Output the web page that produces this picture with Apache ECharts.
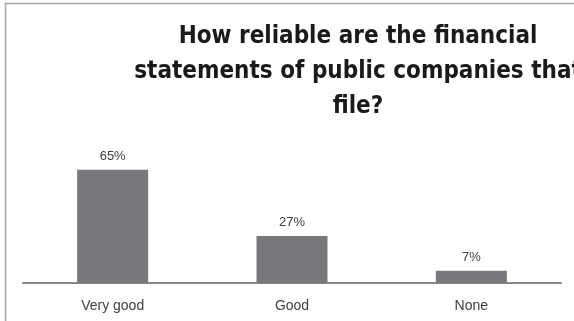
<!DOCTYPE html>
<html>
<head>
<meta charset="utf-8">
<script src="https://cdn.jsdelivr.net/npm/echarts@6/dist/echarts.min.js"></script>
<style>
  html, body { margin: 0; padding: 0; background: #fff; }
  #chart { width: 574px; height: 321px; }
</style>
</head>
<body>
<div id="chart"></div>
<script>
// 数据
const categories = ["Very good", "Good", "None"];
const values = [65, 27, 7];
const titleText = "How reliable are the financial\nstatements of public companies that\nfile?";

const mycharts = echarts.init(document.getElementById("chart"));
const options = {
  backgroundColor: "#fff",
  animation: false,
  title: {
    text: titleText,
    left: 353,
    top: 14,
    textAlign: "center",
    textStyle: {
      fontFamily: "Liberation Sans Narrow, DejaVu Sans Condensed, Liberation Sans, sans-serif",
      fontWeight: "bold",
      fontSize: 24,
      lineHeight: 35,
      color: "#1a1a1a",
    },
  },
  graphic: [
    {
      type: "polyline",
      silent: true,
      shape: { points: [[5.5, 330], [5.5, 3.5], [580, 3.5]] },
      style: { stroke: "#a6a6a6", lineWidth: 1.5, fill: null },
    },
  ],
  grid: { left: 23, right: 13, top: 161, bottom: 38 },
  xAxis: {
    type: "category",
    data: categories,
    axisLine: { lineStyle: { color: "#878787", width: 2 } },
    axisTick: { show: false },
    axisLabel: {
      margin: 16,
      fontFamily: "Liberation Sans, sans-serif",
      fontSize: 14,
      color: "#404040",
    },
  },
  yAxis: {
    type: "value",
    min: 0,
    max: 70,
    show: false,
    splitLine: { show: false },
  },
  series: [
    {
      type: "bar",
      data: values,
      barWidth: 71,
      itemStyle: { color: "#77787b" },
      label: {
        show: true,
        position: "top",
        distance: 7,
        formatter: "{c}%",
        fontFamily: "Liberation Sans, sans-serif",
        fontSize: 13,
        color: "#404040",
      },
    },
  ],
};
mycharts.setOption(options);
</script>
</body>
</html>
